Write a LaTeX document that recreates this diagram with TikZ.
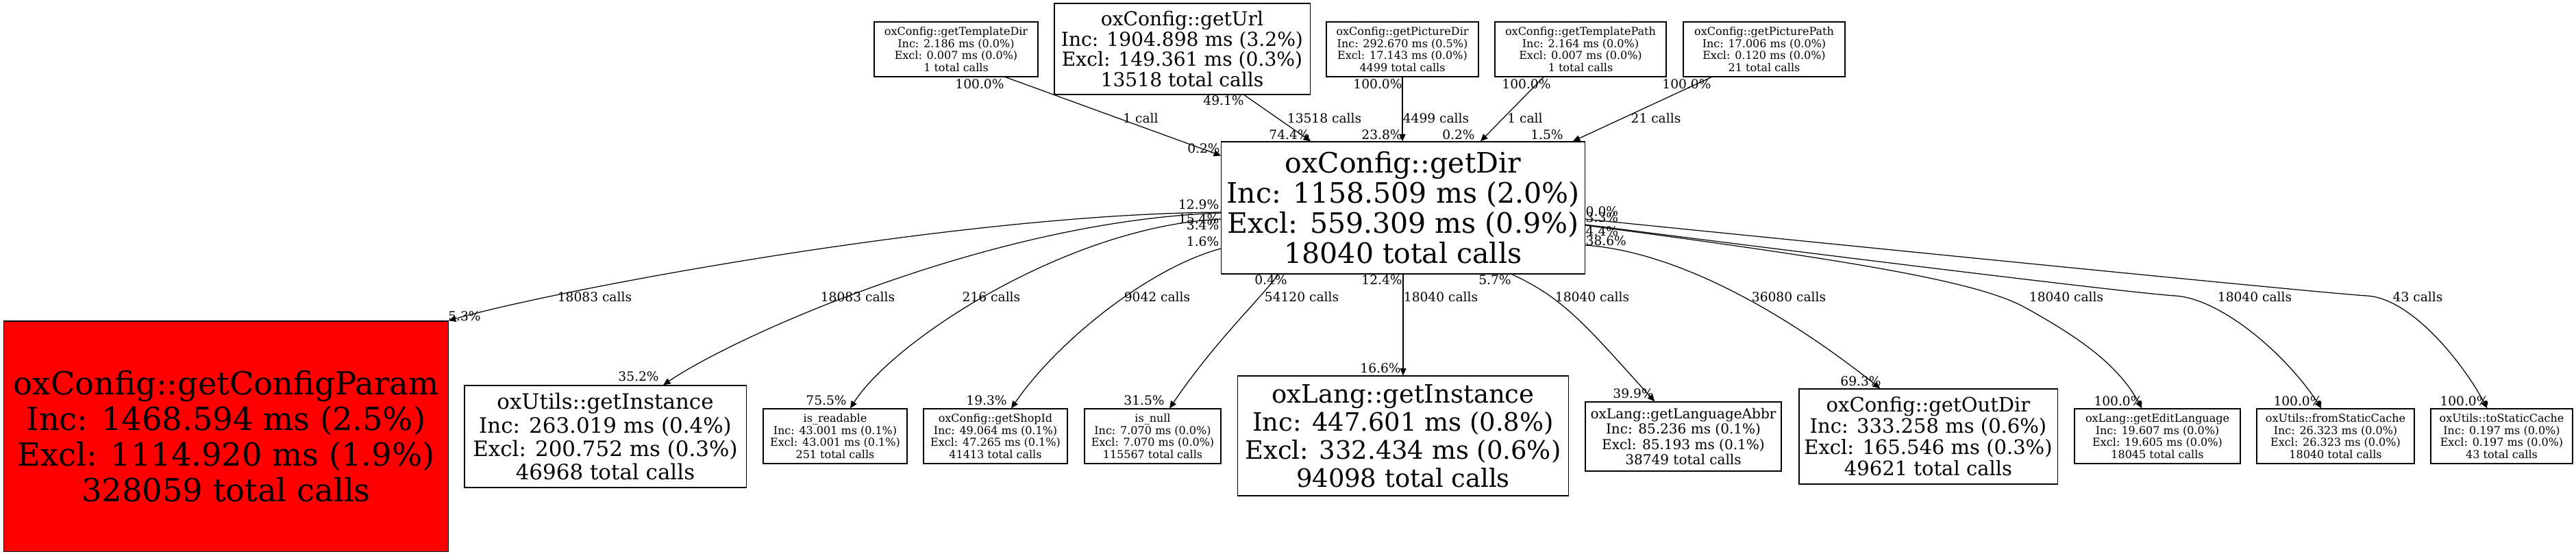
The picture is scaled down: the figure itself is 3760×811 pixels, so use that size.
\documentclass[tikz,border=0pt]{standalone}
\usepackage{fontspec}
\setmainfont{DejaVu Serif}
\usetikzlibrary{arrows.meta,calc}
\newcommand\fsz[2]{\fontsize{#1}{#2}\selectfont}
\begin{document}
\begin{tikzpicture}[x=0.01cm,y=-0.01cm,
  fn/.style={draw,line width=0.35pt,inner sep=0pt,align=center,font=\fsz{4.55pt}{5pt}},
  lbl/.style={inner sep=0pt,font=\fsz{5.3pt}{6pt}},
  call/.style={line width=0.35pt,-{Triangle[length=3pt,width=2.6pt]}}]
\useasboundingbox (0,0) rectangle (3760,811);
\node[fn,minimum width=2.39cm,minimum height=0.8cm] (tdir) at (1395.5,72) {oxConfig::getTemplateDir\\Inc: 2.186 ms (0.0\%)\\Excl: 0.007 ms (0.0\%)\\1 total calls};
\node[fn,minimum width=3.73cm,minimum height=1.33cm,font=\fsz{8pt}{8.5pt}] (url) at (1725.5,71.5) {oxConfig::getUrl\\Inc: 1904.898 ms (3.2\%)\\Excl: 149.361 ms (0.3\%)\\13518 total calls};
\node[fn,minimum width=2.22cm,minimum height=0.8cm] (pdir) at (2047,72) {oxConfig::getPictureDir\\Inc: 292.670 ms (0.5\%)\\Excl: 17.143 ms (0.0\%)\\4499 total calls};
\node[fn,minimum width=2.5cm,minimum height=0.8cm] (tpath) at (2307,72) {oxConfig::getTemplatePath\\Inc: 2.164 ms (0.0\%)\\Excl: 0.007 ms (0.0\%)\\1 total calls};
\node[fn,minimum width=2.36cm,minimum height=0.8cm] (ppath) at (2575,72) {oxConfig::getPicturePath\\Inc: 17.006 ms (0.0\%)\\Excl: 0.120 ms (0.0\%)\\21 total calls};
\node[fn,minimum width=5.3cm,minimum height=1.93cm,font=\fsz{11.67pt}{12.5pt}] (getDir) at (2048,303.5) {oxConfig::getDir\\Inc: 1158.509 ms (2.0\%)\\Excl: 559.309 ms (0.9\%)\\18040 total calls};
\node[fn,fill=red,minimum width=6.48cm,minimum height=3.36cm,font=\fsz{13.2pt}{14.8pt}] (configParam) at (330,637) {oxConfig::getConfigParam\\Inc: 1468.594 ms (2.5\%)\\Excl: 1114.920 ms (1.9\%)\\328059 total calls};
\node[fn,minimum width=4.11cm,minimum height=1.49cm,font=\fsz{8.8pt}{9.7pt}] (utilsInst) at (883.5,637.5) {oxUtils::getInstance\\Inc: 263.019 ms (0.4\%)\\Excl: 200.752 ms (0.3\%)\\46968 total calls};
\node[fn,minimum width=2.1cm,minimum height=0.8cm] (readable) at (1219,637) {is\_readable\\Inc: 43.001 ms (0.1\%)\\Excl: 43.001 ms (0.1\%)\\251 total calls};
\node[fn,minimum width=2.1cm,minimum height=0.8cm] (shopId) at (1453,637) {oxConfig::getShopId\\Inc: 49.064 ms (0.1\%)\\Excl: 47.265 ms (0.1\%)\\41413 total calls};
\node[fn,minimum width=1.99cm,minimum height=0.8cm] (isnull) at (1682.5,637) {is\_null\\Inc: 7.070 ms (0.0\%)\\Excl: 7.070 ms (0.0\%)\\115567 total calls};
\node[fn,minimum width=4.82cm,minimum height=1.75cm,font=\fsz{10.5pt}{11.7pt}] (langInst) at (2048,636.5) {oxLang::getInstance\\Inc: 447.601 ms (0.8\%)\\Excl: 332.434 ms (0.6\%)\\94098 total calls};
\node[fn,minimum width=2.86cm,minimum height=1.01cm,font=\fsz{5.7pt}{6.3pt}] (langAbbr) at (2457,637.5) {oxLang::getLanguageAbbr\\Inc: 85.236 ms (0.1\%)\\Excl: 85.193 ms (0.1\%)\\38749 total calls};
\node[fn,minimum width=3.77cm,minimum height=1.39cm,font=\fsz{8.25pt}{8.8pt}] (outDir) at (2814.5,637.5) {oxConfig::getOutDir\\Inc: 333.258 ms (0.6\%)\\Excl: 165.546 ms (0.3\%)\\49621 total calls};
\node[fn,minimum width=2.42cm,minimum height=0.8cm] (editLang) at (3149,637) {oxLang::getEditLanguage\\Inc: 19.607 ms (0.0\%)\\Excl: 19.605 ms (0.0\%)\\18045 total calls};
\node[fn,minimum width=2.3cm,minimum height=0.8cm] (fromCache) at (3409,637) {oxUtils::fromStaticCache\\Inc: 26.323 ms (0.0\%)\\Excl: 26.323 ms (0.0\%)\\18040 total calls};
\node[fn,minimum width=2.07cm,minimum height=0.8cm] (toCache) at (3651.5,637) {oxUtils::toStaticCache\\Inc: 0.197 ms (0.0\%)\\Excl: 0.197 ms (0.0\%)\\43 total calls};

\draw[call] ($(tdir.south east)+(-48,0)$) -- ($(getDir.north west)+(0,21)$);
\draw[call] ($(url.south)+(90.5,0)$) -- ($(getDir.north west)+(131,0)$);
\draw[call] (pdir.south) -- (pdir.south |- getDir.north);
\draw[call] ($(tpath.south)+(-54,0)$) -- ($(getDir.north)+(113,0)$);
\draw[call] ($(ppath.south)+(-77,0)$) -- ($(getDir.north east)+(-18,0)$);
\draw[call] ($(getDir.west)+(0,6.5)$) .. controls (1400,312) and (808,424) .. (configParam.north east);
\draw[call] ($(getDir.west)+(0,7.5)$) .. controls (1450,322) and (1074,490) .. ($(utilsInst.north)+(84.5,0)$);
\draw[call] ($(getDir.west)+(0,16.5)$) .. controls (1560,330) and (1304,497) .. ($(readable.north)+(22,0)$);
\draw[call] ($(getDir.west)+(0,59.5)$) .. controls (1680,390) and (1545,496) .. ($(shopId.north)+(23,0)$);
\draw[call] ($(getDir.south)+(-182,0)$) .. controls (1832,445) and (1775,497) .. ($(isnull.north)+(24.5,0)$);
\draw[call] (getDir.south) -- (langInst.north);
\draw[call] ($(getDir.south east)+(-107,0)$) .. controls (2284,436) and (2316,477) .. ($(langAbbr.north west)+(102,0)$);
\draw[call] ($(getDir.east)+(0,54.5)$) .. controls (2480,370) and (2660,500) .. ($(outDir.north west)+(119,0)$);
\draw[call] ($(getDir.east)+(0,25.5)$) .. controls (2700,380) and (2880,410) .. (2952,447) .. controls (3030,490) and (3090,530) .. ($(editLang.north west)+(99,0)$);
\draw[call] ($(getDir.east)+(0,24.5)$) .. controls (2600,365) and (3110,428) .. (3175,432) .. controls (3240,436) and (3334,514) .. ($(fromCache.north west)+(95,0)$);
\draw[call] ($(getDir.east)+(0,16.5)$) .. controls (2800,369) and (3390,428) .. (3455,432) .. controls (3520,436) and (3595,530) .. ($(toCache.north west)+(83,0)$);

\node[lbl] (l1) at (1430,123) {100.0\%};
\node[lbl] (l2) at (1665,173) {1 call};
\node[lbl] (l3) at (1757,217) {0.2\%};
\node[lbl] (l4) at (1786,147) {49.1\%};
\node[lbl] (l5) at (1933,173) {13518 calls};
\node[lbl] (l6) at (1882,197) {74.4\%};
\node[lbl] (l7) at (2011,123) {100.0\%};
\node[lbl] (l8) at (2096,173) {4499 calls};
\node[lbl] (l9) at (2017,197) {23.8\%};
\node[lbl] (l10) at (2228,123) {100.0\%};
\node[lbl] (l11) at (2226,173) {1 call};
\node[lbl] (l12) at (2129,197) {0.2\%};
\node[lbl] (l13) at (2462,123) {100.0\%};
\node[lbl] (l14) at (2417,173) {21 calls};
\node[lbl] (l15) at (2258,197) {1.5\%};
\node[lbl,anchor=base east] (l16) at (1780,305) {12.9\%};
\node[lbl,anchor=base east] (l17) at (1780,326) {15.4\%};
\node[lbl,anchor=base east] (l18) at (1780,335) {3.4\%};
\node[lbl,anchor=base east] (l19) at (1780,359) {1.6\%};
\node[lbl,anchor=base west] (l20) at (2314,315) {0.0\%};
\node[lbl,anchor=base west] (l21) at (2314,324) {3.3\%};
\node[lbl,anchor=base west] (l22) at (2314,344) {4.4\%};
\node[lbl,anchor=base west] (l23) at (2314,358) {38.6\%};
\node[lbl] (l24) at (1855,409) {0.4\%};
\node[lbl] (l25) at (2017,409) {12.4\%};
\node[lbl] (l26) at (2182,409) {5.7\%};
\node[lbl] (l27) at (868,434) {18083 calls};
\node[lbl] (l28) at (1252,434) {18083 calls};
\node[lbl] (l29) at (1447,434) {216 calls};
\node[lbl] (l30) at (1689,434) {9042 calls};
\node[lbl] (l31) at (1900,434) {54120 calls};
\node[lbl] (l32) at (2103,434) {18040 calls};
\node[lbl] (l33) at (2324,434) {18040 calls};
\node[lbl] (l34) at (2611,434) {36080 calls};
\node[lbl] (l35) at (3016,434) {18040 calls};
\node[lbl] (l36) at (3291,434) {18040 calls};
\node[lbl] (l37) at (3529,434) {43 calls};
\node[lbl] (l38) at (678,462) {5.3\%};
\node[lbl] (l39) at (932,550) {35.2\%};
\node[lbl] (l40) at (1206,585) {75.5\%};
\node[lbl] (l41) at (1440,585) {19.3\%};
\node[lbl] (l42) at (1670,585) {31.5\%};
\node[lbl] (l43) at (2015,538) {16.6\%};
\node[lbl] (l44) at (2384,575) {39.9\%};
\node[lbl] (l45) at (2716,557) {69.3\%};
\node[lbl] (l46) at (3092,586) {100.0\%};
\node[lbl] (l47) at (3354,586) {100.0\%};
\node[lbl] (l48) at (3597,586) {100.0\%};
\end{tikzpicture}
\end{document}
